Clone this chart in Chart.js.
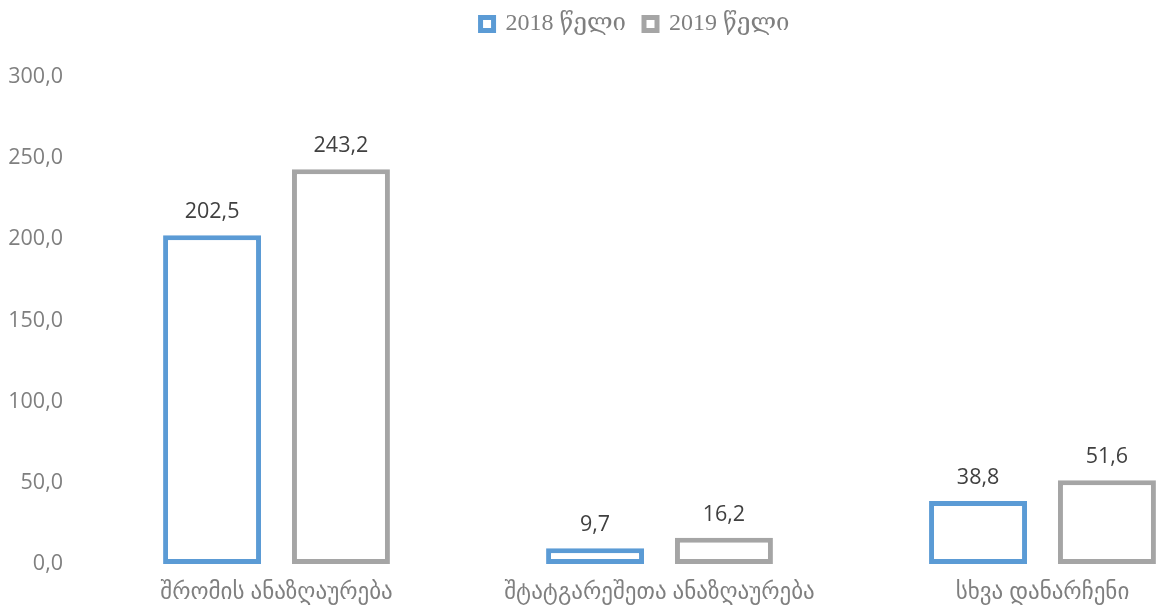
<!DOCTYPE html>
<html>
<head>
<meta charset="utf-8">
<script src="https://cdn.jsdelivr.net/npm/chart.js@4.4.1/dist/chart.umd.min.js"></script>
<style>
  html, body { margin: 0; padding: 0; background: #ffffff; overflow: hidden; }
  #wrap { position: relative; width: 1264px; height: 609px; }
</style>
</head>
<body>
<div id="wrap"><canvas id="c"></canvas></div>
<script>
const categories = ["შრომის ანაზღაურება", "შტატგარეშეთა ანაზღაურება", "სხვა დანარჩენი"];
const seriesNames = ["2018 წელი", "2019 წელი"];
const values2018 = [202.5, 9.7, 38.8];
const values2019 = [243.2, 16.2, 51.6];
const yTicks = [0, 50, 100, 150, 200, 250, 300];

const fmt = v => v.toFixed(1).replace('.', ',');

const valueLabels = {
  id: 'valueLabels',
  afterDatasetsDraw(chart) {
    const ctx = chart.ctx;
    ctx.save();
    ctx.font = '21.5px "Open Sans", "DejaVu Sans", sans-serif';
    ctx.fillStyle = '#404040';
    ctx.textAlign = 'center';
    ctx.textBaseline = 'middle';
    chart.data.datasets.forEach((ds, di) => {
      const meta = chart.getDatasetMeta(di);
      meta.data.forEach((bar, i) => {
        ctx.fillText(fmt(ds.data[i]), bar.x, bar.y - 23);
      });
    });
    ctx.restore();
  }
};

const legendTweak = {
  id: 'legendTweak',
  beforeInit(chart) {
    const legend = chart.legend;
    if (!legend) return;
    const origFit = legend.fit.bind(legend);
    legend.fit = function () { origFit(); this.height += 31; };
  },
  afterLayout(chart) {
    const legend = chart.legend;
    if (!legend) return;
    legend.left += 14; legend.right += 14;
  }
};

new Chart(document.getElementById('c'), {
  type: 'bar',
  data: {
    labels: categories,
    datasets: [
      { label: seriesNames[0], data: values2018, backgroundColor: '#ffffff', borderColor: '#5B9BD5', borderWidth: 5, borderSkipped: false },
      { label: seriesNames[1], data: values2019, backgroundColor: '#ffffff', borderColor: '#A5A5A5', borderWidth: 5, borderSkipped: false }
    ]
  },
  options: {
    responsive: true,
    maintainAspectRatio: false,
    animation: false,
    devicePixelRatio: 1,
    categoryPercentage: 0.673,
    barPercentage: 0.76,
    layout: { padding: { left: 8, right: 30, top: -6, bottom: 0 } },
    plugins: {
      legend: {
        position: 'top',
        labels: {
          boxWidth: 13,
          boxHeight: 13,
          padding: 18,
          color: '#7f7f7f',
          font: { family: '"Liberation Serif", "DejaVu Serif", serif', size: 24 }
        }
      },
      tooltip: { enabled: false }
    },
    scales: {
      x: {
        afterFit(axis) { axis.height = 45; },
        grid: { display: false, drawTicks: false },
        border: { display: false },
        ticks: { color: '#7f7f7f', padding: 15, font: { family: '"Open Sans", "DejaVu Sans", sans-serif', size: 23 } }
      },
      y: {
        min: 0, max: 300,
        afterBuildTicks(axis) { axis.ticks = yTicks.map(v => ({ value: v })); },
        afterFit(axis) { axis.width = 77; },
        grid: { display: false, drawTicks: false },
        border: { display: false },
        ticks: {
          color: '#7f7f7f', padding: 22,
          font: { family: '"Open Sans", "DejaVu Sans", sans-serif', size: 21.5 },
          callback: v => fmt(v)
        }
      }
    }
  },
  plugins: [valueLabels, legendTweak]
});
</script>
</body>
</html>
